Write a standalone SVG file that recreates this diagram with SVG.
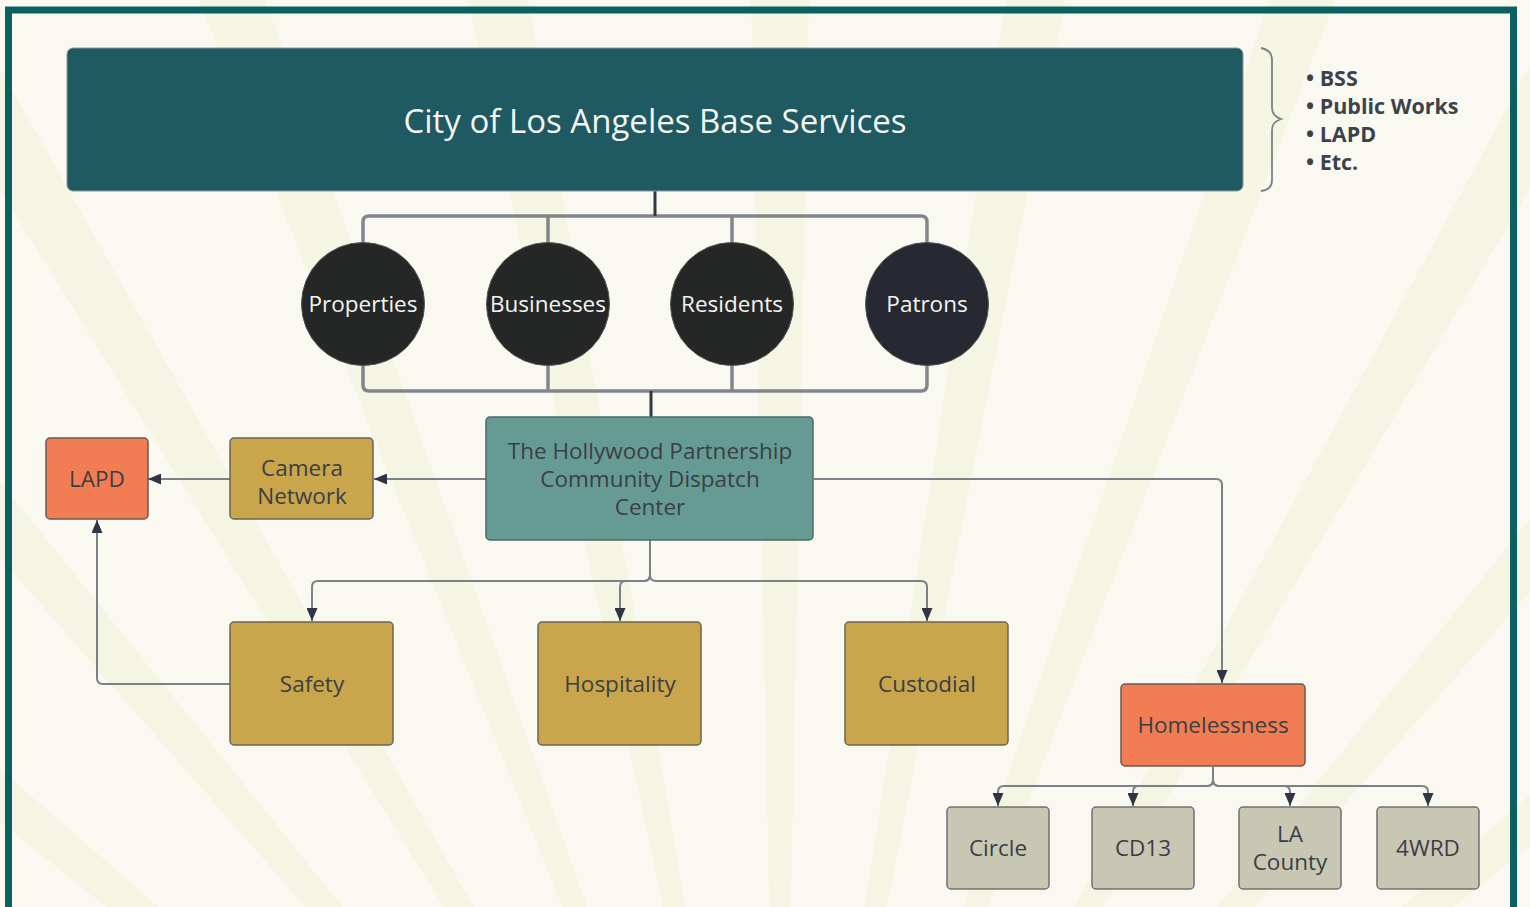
<svg xmlns="http://www.w3.org/2000/svg" width="1530" height="907" viewBox="0 0 1530 907">
<defs>
<style>
.lbl{font-family:"Open Sans","Liberation Sans",sans-serif;fill:#3a3f46;text-anchor:middle;font-size:22.5px}
.wht{font-family:"Open Sans","Liberation Sans",sans-serif;fill:#f4f4f0;text-anchor:middle}
.bul{font-family:"Open Sans","Liberation Sans",sans-serif;font-weight:bold;fill:#3d424a;font-size:21.5px}
.conn{fill:none;stroke:#7b8187;stroke-width:2}
.thick{fill:none;stroke:#80868b;stroke-width:3.5}
.dark{fill:none;stroke:#2f3944;stroke-width:3}
.ray{fill:#f5f5e4}
.gold{fill:#c9a54b;stroke:#6b6450;stroke-width:1.5}
.orange{fill:#f27c53;stroke:#6b5a50;stroke-width:1.5}
.grey{fill:#c8c7b4;stroke:#6f7270;stroke-width:1.5}
.circ{stroke:#555;stroke-width:1}
</style>
<marker id="arr" markerUnits="userSpaceOnUse" markerWidth="14" markerHeight="11" refX="13" refY="5.5" orient="auto">
<path d="M0,0 L13,5.5 L0,11 z" fill="#2d3642"/>
</marker>
</defs>
<rect x="0" y="0" width="1530" height="907" fill="#f9f9f2"/>
<g id="rays">
<polygon class="ray" points="780,1450 -1167,-118 -1103,-195"/>
<polygon class="ray" points="780,1450 -865,-432 -788,-497"/>
<polygon class="ray" points="780,1450 -536,-676 -449,-727"/>
<polygon class="ray" points="780,1450 -150,-870 -56,-906"/>
<polygon class="ray" points="780,1450 254,-994 352,-1013"/>
<polygon class="ray" points="780,1450 730,-1050 830,-1050"/>
<polygon class="ray" points="780,1450 1165,-1020 1263,-1003"/>
<polygon class="ray" points="780,1450 1580,-919 1674,-885"/>
<polygon class="ray" points="780,1450 1971,-748 2058,-699"/>
<polygon class="ray" points="780,1450 2348,-497 2425,-432"/>
<polygon class="ray" points="780,1450 2663,-195 2727,-118"/>
</g>
<rect x="8.5" y="10" width="1505" height="930" fill="none" stroke="#0b6060" stroke-width="7"/>

<g id="connectors">
<path class="thick" d="M363,243 V222 Q363,216 369,216 H921 Q927,216 927,222 V243"/>
<path class="thick" d="M548,243 V216 M732,243 V216"/>
<path class="dark" d="M655,191 V216"/>
<path class="thick" d="M363,366 V385 Q363,391 369,391 H921 Q927,391 927,385 V366"/>
<path class="thick" d="M548,366 V391 M732,366 V391"/>
<path class="dark" d="M651,391 V417"/>
<path class="conn" d="M486,479 H374" marker-end="url(#arr)"/>
<path class="conn" d="M230,479 H148" marker-end="url(#arr)"/>
<path class="conn" d="M230,684 H103 Q97,684 97,678 V520" marker-end="url(#arr)"/>
<path class="conn" d="M650,540 V575 Q650,581 644,581 H318 Q312,581 312,587 V621" marker-end="url(#arr)"/>
<path class="conn" d="M650,575 Q650,581 644,581 H626 Q620,581 620,587 V621" marker-end="url(#arr)"/>
<path class="conn" d="M650,575 Q650,581 656,581 H921 Q927,581 927,587 V621" marker-end="url(#arr)"/>
<path class="conn" d="M814,479 H1216 Q1222,479 1222,485 V683" marker-end="url(#arr)"/>
<path class="conn" d="M1213,767 V780 Q1213,786 1207,786 H1004 Q998,786 998,792 V806" marker-end="url(#arr)"/>
<path class="conn" d="M1213,780 Q1213,786 1207,786 H1139 Q1133,786 1133,792 V806" marker-end="url(#arr)"/>
<path class="conn" d="M1213,780 Q1213,786 1219,786 H1284 Q1290,786 1290,792 V806" marker-end="url(#arr)"/>
<path class="conn" d="M1213,780 Q1213,786 1219,786 H1422 Q1428,786 1428,792 V806" marker-end="url(#arr)"/>
<path d="M1261,48 Q1272,50 1272,60 V108 Q1272,116 1281,119 Q1272,122 1272,130 V180 Q1272,190 1261,191" fill="none" stroke="#7b8187" stroke-width="1.8"/>
</g>

<g id="base">
<rect x="67" y="48" width="1176" height="143" rx="6" fill="#1f5961" stroke="#8a9a9c" stroke-width="1"/>
<text class="wht" x="655" y="133" font-size="33">City of Los Angeles Base Services</text>
</g>
<g id="list">
<text class="bul" x="1306" y="86">• BSS</text>
<text class="bul" x="1306" y="114">• Public Works</text>
<text class="bul" x="1306" y="142">• LAPD</text>
<text class="bul" x="1306" y="170">• Etc.</text>
</g>
<g id="properties"><circle class="circ" cx="363" cy="304" r="61.5" fill="#252626"/><text class="wht" x="363" y="312" font-size="22.5">Properties</text></g>
<g id="businesses"><circle class="circ" cx="548" cy="304" r="61.5" fill="#252626"/><text class="wht" x="548" y="312" font-size="22.5">Businesses</text></g>
<g id="residents"><circle class="circ" cx="732" cy="304" r="61.5" fill="#252626"/><text class="wht" x="732" y="312" font-size="22.5">Residents</text></g>
<g id="patrons"><circle class="circ" cx="927" cy="304" r="61.5" fill="#262931"/><text class="wht" x="927" y="312" font-size="22.5">Patrons</text></g>

<g id="dispatch">
<rect x="486" y="417" width="327" height="123" rx="4" fill="#669b93" stroke="#4d6866" stroke-width="1.5"/>
<text class="lbl" x="650" y="459">The Hollywood Partnership</text>
<text class="lbl" x="650" y="487">Community Dispatch</text>
<text class="lbl" x="650" y="515">Center</text>
</g>
<g id="camera">
<rect class="gold" x="230" y="438" width="143" height="81" rx="4"/>
<text class="lbl" x="302" y="476">Camera</text>
<text class="lbl" x="302" y="504">Network</text>
</g>
<g id="lapd">
<rect class="orange" x="46" y="438" width="102" height="81" rx="4"/>
<text class="lbl" x="97" y="487">LAPD</text>
</g>
<g id="safety"><rect class="gold" x="230" y="622" width="163" height="123" rx="4"/><text class="lbl" x="312" y="692">Safety</text></g>
<g id="hospitality"><rect class="gold" x="538" y="622" width="163" height="123" rx="4"/><text class="lbl" x="620" y="692">Hospitality</text></g>
<g id="custodial"><rect class="gold" x="845" y="622" width="163" height="123" rx="4"/><text class="lbl" x="927" y="692">Custodial</text></g>
<g id="homelessness"><rect class="orange" x="1121" y="684" width="184" height="82" rx="4"/><text class="lbl" x="1213" y="733">Homelessness</text></g>
<g id="circle"><rect class="grey" x="947" y="807" width="102" height="82" rx="4"/><text class="lbl" x="998" y="856">Circle</text></g>
<g id="cd13"><rect class="grey" x="1092" y="807" width="102" height="82" rx="4"/><text class="lbl" x="1143" y="856">CD13</text></g>
<g id="lacounty"><rect class="grey" x="1239" y="807" width="102" height="82" rx="4"/><text class="lbl" x="1290" y="842">LA</text><text class="lbl" x="1290" y="870">County</text></g>
<g id="wrd"><rect class="grey" x="1377" y="807" width="102" height="82" rx="4"/><text class="lbl" x="1428" y="856">4WRD</text></g>
</svg>
